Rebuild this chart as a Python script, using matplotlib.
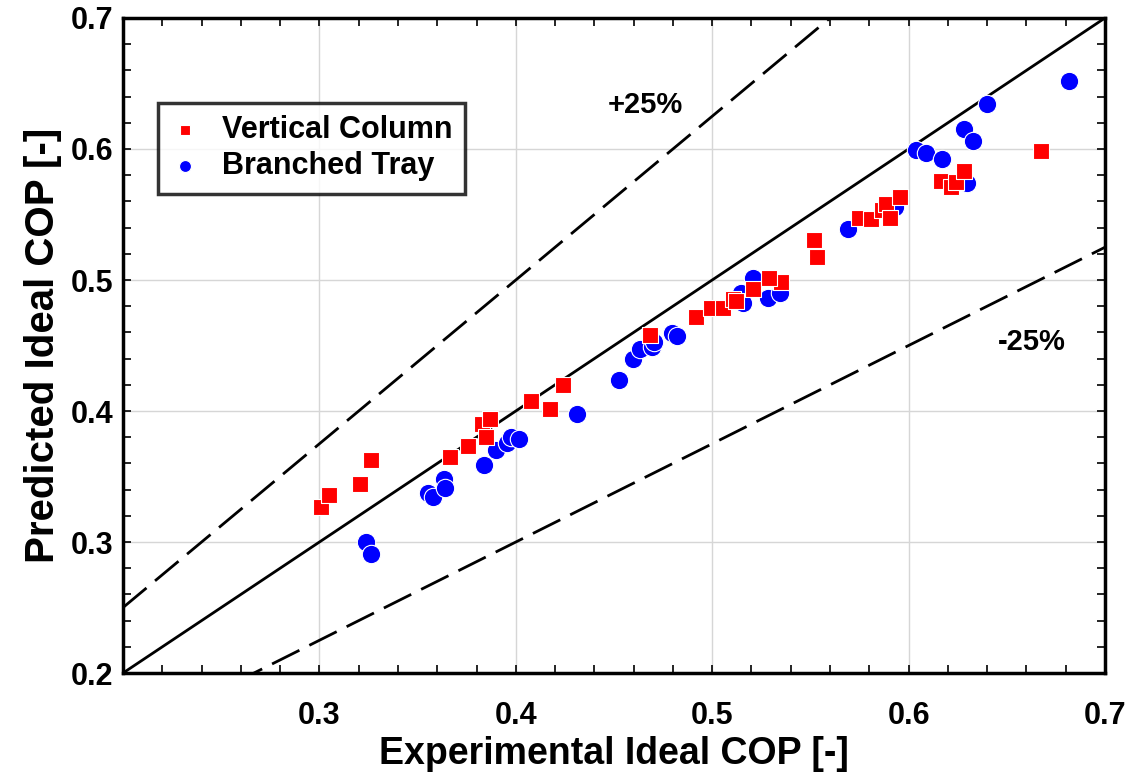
import matplotlib
matplotlib.use("Agg")
import matplotlib.pyplot as plt
import numpy as np
from matplotlib.ticker import MultipleLocator, FormatStrFormatter

plt.rcParams['font.family'] = ['Liberation Sans', 'DejaVu Sans']
plt.rcParams['font.weight'] = 'bold'

# Vertical column measurements (experimental, predicted)
vc_exp = [0.301, 0.305, 0.3207, 0.3263, 0.3665, 0.3758, 0.3829, 0.3870, 0.3848,
          0.4076, 0.4174, 0.4242, 0.4683, 0.4916, 0.4994, 0.5053, 0.5104, 0.5119,
          0.5209, 0.5350, 0.5289, 0.5535, 0.5518, 0.5748, 0.5809, 0.5865, 0.5885,
          0.5905, 0.5956, 0.6165, 0.6216, 0.6241, 0.6282, 0.6674]
vc_pred = [0.327, 0.336, 0.3443, 0.3628, 0.3649, 0.3735, 0.3903, 0.3939, 0.3804,
           0.4079, 0.4013, 0.4198, 0.4580, 0.4720, 0.4789, 0.4789, 0.4855, 0.4842,
           0.4929, 0.4987, 0.5013, 0.5178, 0.5305, 0.5473, 0.5466, 0.5534, 0.5580,
           0.5473, 0.5634, 0.5756, 0.5710, 0.5748, 0.5832, 0.5985]

# Branched tray measurements (experimental, predicted)
bt_exp = [0.3237, 0.3264, 0.3555, 0.3577, 0.3634, 0.3640, 0.3838, 0.3899, 0.3954,
          0.3974, 0.4018, 0.4313, 0.4525, 0.4598, 0.4632, 0.4691, 0.4703, 0.4797,
          0.4819, 0.5149, 0.5158, 0.5206, 0.5282, 0.5345, 0.5690, 0.5931, 0.6038,
          0.6089, 0.6168, 0.6282, 0.6296, 0.6329, 0.6401, 0.6818]
bt_pred = [0.3002, 0.2906, 0.3372, 0.3346, 0.3481, 0.3410, 0.3588, 0.3702, 0.3753,
           0.3804, 0.3786, 0.3975, 0.4237, 0.4395, 0.4473, 0.4491, 0.4529, 0.4593,
           0.4573, 0.4898, 0.4822, 0.5013, 0.4860, 0.4898, 0.5387, 0.5560, 0.5992,
           0.5967, 0.5921, 0.6153, 0.5743, 0.6063, 0.6341, 0.6519]

axis_min, axis_max = 0.2, 0.7
band = 0.25

fig = plt.figure(figsize=(11.36, 7.72), dpi=100)
ax = fig.add_axes([0.1083, 0.1282, 0.8644, 0.8485])

ref = np.array([axis_min, axis_max])
ax.plot(ref, ref, color='black', lw=2.0, zorder=2)
ax.plot(ref, ref * (1 + band), color='black', lw=2.0, ls=(0, (11, 4)), zorder=2)
ax.plot(ref, ref * (1 - band), color='black', lw=2.0, ls=(0, (11, 4)), zorder=2)

bt = ax.scatter(bt_exp, bt_pred, s=175, marker='o', color='#0000ff',
                edgecolors='white', linewidths=0.8, zorder=3, label='Branched Tray')
vc = ax.scatter(vc_exp, vc_pred, s=130, marker='s', color='#ff0000',
                edgecolors='white', linewidths=0.8, zorder=4, label='Vertical Column')

ax.text(0.4658, 0.6336, '+25%', fontsize=21, fontweight='bold', ha='center', va='center')
ax.text(0.6628, 0.4527, '-25%', fontsize=21, fontweight='bold', ha='center', va='center')

ax.set_xlim(axis_min, axis_max)
ax.set_ylim(axis_min, axis_max)
ax.xaxis.set_minor_locator(MultipleLocator(0.02))
ax.yaxis.set_minor_locator(MultipleLocator(0.02))
ax.set_xticks([0.3, 0.4, 0.5, 0.6, 0.7])
ax.set_yticks([0.2, 0.3, 0.4, 0.5, 0.6, 0.7])
ax.xaxis.set_major_formatter(FormatStrFormatter('%.1f'))
ax.yaxis.set_major_formatter(FormatStrFormatter('%.1f'))
ax.tick_params(which='both', direction='in', top=True, right=True, length=6,
               width=1.2, labelsize=22)
ax.tick_params(axis='x', which='major', pad=20)
ax.tick_params(axis='y', which='major', pad=7)
ax.grid(True, which='major', color='#d6d6d6', lw=1.0, zorder=0)
ax.set_axisbelow(True)
for sp in ax.spines.values():
    sp.set_linewidth(2.5)

for lbl in ax.get_xticklabels() + ax.get_yticklabels():
    lbl.set_fontweight('bold')

ax.set_xlabel('Experimental Ideal COP [-]', fontsize=27, fontweight='bold', labelpad=4)
ax.set_ylabel('Predicted Ideal COP [-]', fontsize=29, fontweight='bold', labelpad=6)

leg = ax.legend(handles=[vc, bt], loc='upper left', bbox_to_anchor=(0.0356, 0.870),
                borderaxespad=0, frameon=True, fancybox=False, edgecolor='black',
                borderpad=0.4, handlelength=1.0, handletextpad=0.7, labelspacing=0.2,
                markerscale=0.65, prop={'weight': 'bold', 'size': 22})
leg.get_frame().set_linewidth(2.5)

fig.savefig('out.png', dpi=100, facecolor='white')
